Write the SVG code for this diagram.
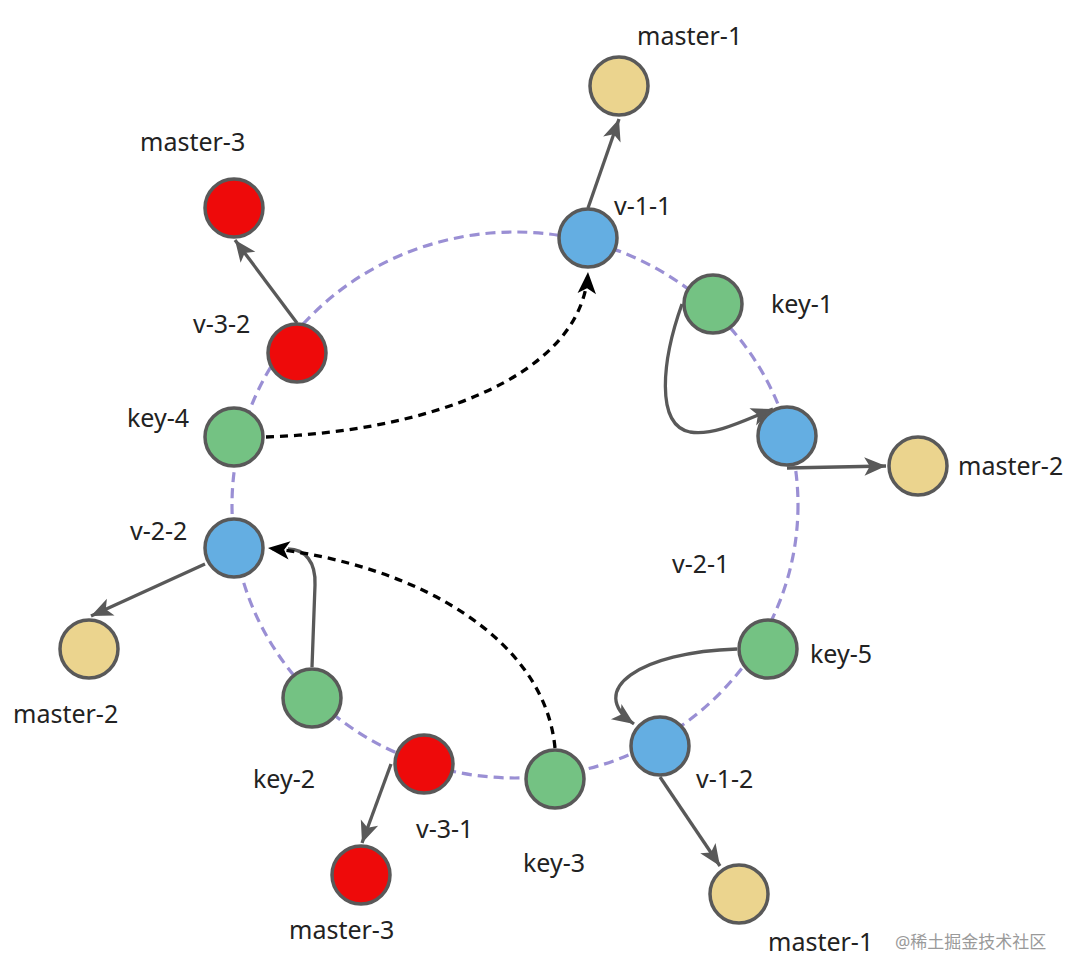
<svg xmlns="http://www.w3.org/2000/svg" width="1081" height="978" viewBox="0 0 1081 978">
<style>
.ring{fill:none;stroke:#9A8FD4;stroke-width:3.2;stroke-dasharray:10 6}
.n{stroke:#595959;stroke-width:3.5}
.blue{fill:#64AEE2}
.green{fill:#74C283}
.red{fill:#EE0A0A}
.yellow{fill:#EBD48E}
.e{fill:none;stroke:#595959;stroke-width:3.3}
.d{fill:none;stroke:#000;stroke-width:3.3;stroke-dasharray:8 6}
text{font-family:"Noto Sans","Open Sans","Liberation Sans",sans-serif;font-size:25px;fill:#222}
.wm{font-family:"Noto Sans","Noto Sans CJK SC",sans-serif;font-size:17px;fill:#9a9a9a}
</style>
<defs>
<marker id="ag" markerUnits="userSpaceOnUse" markerWidth="26" markerHeight="22" viewBox="-22 -10 24 20" refX="0" refY="0" orient="auto">
<path d="M0,0 L-20,-8.5 L-15,0 L-20,8.5 Z" fill="#595959"/>
</marker>
<marker id="ab" markerUnits="userSpaceOnUse" markerWidth="26" markerHeight="22" viewBox="-22 -10 24 20" refX="0" refY="0" orient="auto">
<path d="M0,0 L-20,-8.5 L-15,0 L-20,8.5 Z" fill="#000"/>
</marker>
</defs>
<rect width="1081" height="978" fill="#fff"/>
<ellipse id="ring" class="ring" cx="515" cy="505" rx="283" ry="273"/>
<g id="connectors">
<line class="e" x1="588" y1="208" x2="619" y2="119" marker-end="url(#ag)"/>
<line class="e" x1="297" y1="323" x2="235" y2="240" marker-end="url(#ag)"/>
<path class="d" d="M266,437 C420,432 582,380 588,272" marker-end="url(#ab)"/>
<path class="e" d="M682,304 C662,360 655,425 690,432 C715,436 745,420 773,409" marker-end="url(#ag)"/>
<line class="e" x1="787" y1="468" x2="886" y2="466" marker-end="url(#ag)"/>
<line class="e" x1="205" y1="564" x2="91" y2="616" marker-end="url(#ag)"/>
<path class="e" d="M312,667 L315,585 C316,562 305,549 288,549"/>
<path class="d" d="M555,748 C545,640 420,565 268,548" marker-end="url(#ab)"/>
<path class="e" d="M737,649 C640,652 585,690 634,724" marker-end="url(#ag)"/>
<line class="e" x1="391" y1="764" x2="362" y2="843" marker-end="url(#ag)"/>
<line class="e" x1="660" y1="777" x2="720" y2="866" marker-end="url(#ag)"/>
</g>
<g id="master-1-top"><circle class="n yellow" cx="619" cy="86" r="29"/><text x="637" y="45">master-1</text></g>
<g id="master-3-top"><circle class="n red" cx="234" cy="208" r="29"/><text x="140" y="151">master-3</text></g>
<g id="v-1-1"><circle class="n blue" cx="588" cy="238" r="29"/><text x="614" y="215">v-1-1</text></g>
<g id="key-1"><circle class="n green" cx="713" cy="304" r="29"/><text x="771" y="313">key-1</text></g>
<g id="v-2-1"><circle class="n blue" cx="787" cy="436" r="29"/><text x="672" y="573">v-2-1</text></g>
<g id="master-2-right"><circle class="n yellow" cx="918" cy="466" r="29"/><text x="958" y="475">master-2</text></g>
<g id="v-3-2"><circle class="n red" cx="297" cy="353" r="29"/><text x="193" y="333">v-3-2</text></g>
<g id="key-4"><circle class="n green" cx="234" cy="437" r="29"/><text x="127" y="427">key-4</text></g>
<g id="v-2-2"><circle class="n blue" cx="234" cy="548" r="29"/><text x="130" y="540">v-2-2</text></g>
<g id="master-2-left"><circle class="n yellow" cx="89" cy="649" r="29"/><text x="13" y="723">master-2</text></g>
<g id="key-2"><circle class="n green" cx="312" cy="698" r="29"/><text x="253" y="788">key-2</text></g>
<g id="v-3-1"><circle class="n red" cx="424" cy="764" r="29"/><text x="416" y="838">v-3-1</text></g>
<g id="key-3"><circle class="n green" cx="555" cy="779" r="29"/><text x="523" y="872">key-3</text></g>
<g id="v-1-2"><circle class="n blue" cx="660" cy="746" r="29"/><text x="696" y="788">v-1-2</text></g>
<g id="key-5"><circle class="n green" cx="768" cy="649" r="29"/><text x="810" y="663">key-5</text></g>
<g id="master-3-bottom"><circle class="n red" cx="361" cy="875" r="29"/><text x="289" y="939">master-3</text></g>
<g id="master-1-bottom"><circle class="n yellow" cx="739" cy="894" r="29"/><text x="768" y="951">master-1</text></g>
<text class="wm" x="895" y="948">@稀土掘金技术社区</text>
</svg>
